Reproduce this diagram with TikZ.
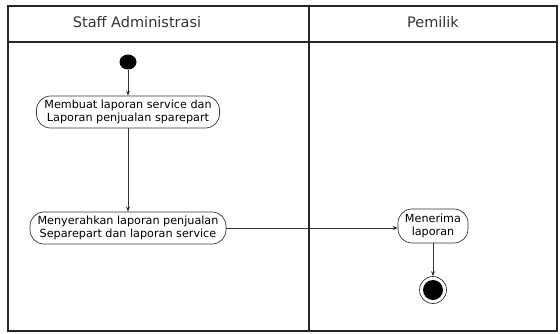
\documentclass[tikz,border=0pt]{standalone}
\usepackage{fontspec}
\setmainfont{DejaVu Sans}
\usetikzlibrary{arrows.meta,shapes.geometric}
\begin{document}
\begin{tikzpicture}[x=1pt,y=-1pt,
  lane/.style={draw=black!85, line width=1.4pt},
  act/.style={draw=black!80, line width=0.7pt, rounded corners=14pt, minimum height=32pt, align=center, inner sep=1pt, font=\fontsize{11.2}{13}\selectfont},
  hdr/.style={font=\fontsize{14.5}{16}\selectfont, text=black!80},
  flow/.style={draw=black!80, line width=0.7pt, -{Stealth[length=5pt,width=4pt]}}]
\useasboundingbox (0,0) rectangle (560,333);
\draw[lane] (8,6) rectangle (557,331);
\draw[lane] (8,42) -- (557,42);
\draw[lane] (309,6) -- (309,331);
\node[hdr] (h1) at (137,22) {Staff Administrasi};
\node[hdr] (h2) at (433,22) {Pemilik};
\node[fill=black, ellipse, minimum width=17pt, minimum height=15pt, inner sep=0pt] (start) at (128,62) {};
\node[act, minimum width=183pt] (a1) at (128,112) {Membuat laporan service dan\\Laporan penjualan sparepart};
\node[act, minimum width=196pt] (a2) at (128,228) {Menyerahkan laporan penjualan\\Separepart dan laporan service};
\node[act, minimum width=70pt, minimum height=34pt] (a3) at (433,226) {Menerima\\laporan};
\node[circle, draw=black!80, line width=0.7pt, minimum size=27pt, inner sep=0pt] (end) at (433,290) {};
\node[circle, fill=black, minimum size=20pt, inner sep=0pt] (endin) at (433,290) {};
\draw[flow] (start) -- (a1);
\draw[flow] (a1) -- (a2);
\draw[flow] (a2) -- (a3.west |- a2.east);
\draw[flow] (a3) -- (end);
\end{tikzpicture}
\end{document}
